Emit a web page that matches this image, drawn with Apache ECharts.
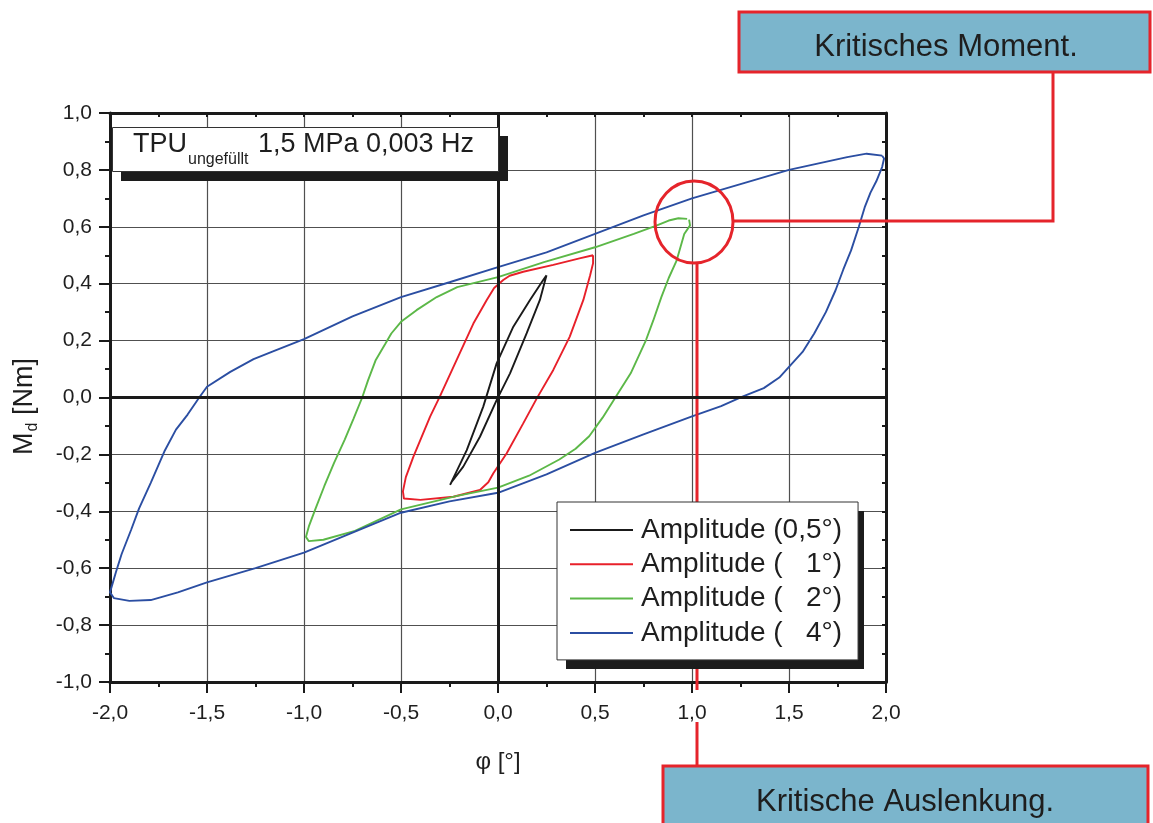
<!DOCTYPE html>
<html>
<head>
<meta charset="utf-8">
<script src="https://cdn.jsdelivr.net/npm/echarts@6/dist/echarts.min.js"></script>
<style>
  html, body { margin: 0; padding: 0; background: #fff; }
  #chart { width: 1153px; height: 823px; }
</style>
</head>
<body>
<div id="chart"></div>
<script>
// Torsional hysteresis loops: twist angle φ [°] vs. moment M_d [Nm]
const seriesNames = ['Amplitude (0,5°)', 'Amplitude (   1°)', 'Amplitude (   2°)', 'Amplitude (   4°)'];
const seriesColors = ['#1a1a1a', '#e8202a', '#5cb848', '#2b4ea2'];

const xTickLabels = ['-2,0', '-1,5', '-1,0', '-0,5', '0,0', '0,5', '1,0', '1,5', '2,0'];
const yTickLabels = ['-1,0', '-0,8', '-0,6', '-0,4', '-0,2', '0,0', '0,2', '0,4', '0,6', '0,8', '1,0'];

// 0.5° amplitude loop [φ, M_d]
const loop05 = [
  [0.25, 0.43], [0.233, 0.413], [0.165, 0.343], [0.079, 0.249], [-0.007, 0.12],
  [-0.076, -0.032], [-0.161, -0.185], [-0.247, -0.307], [-0.24, -0.298],
  [-0.179, -0.243], [-0.093, -0.138], [-0.007, -0.009], [0.062, 0.085],
  [0.148, 0.226], [0.216, 0.343], [0.25, 0.43]
];

// 1° amplitude loop
const loop1 = [
  [0.49, 0.50], [0.42, 0.489], [0.285, 0.466], [0.13, 0.442], [0.06, 0.428], [0.027, 0.413],
  [-0.02, 0.385], [-0.058, 0.343], [-0.127, 0.26], [-0.213, 0.132], [-0.30, 0.003], [-0.35, -0.067],
  [-0.436, -0.208], [-0.475, -0.28], [-0.49, -0.33], [-0.485, -0.355], [-0.40, -0.36],
  [-0.23, -0.349], [-0.093, -0.325], [-0.05, -0.298], [-0.024, -0.266], [0.045, -0.196], [0.13, -0.091],
  [0.20, -0.003], [0.285, 0.097], [0.37, 0.214], [0.44, 0.343], [0.475, 0.43],
  [0.49, 0.472], [0.49, 0.50]
];

// 2° amplitude loop
const loop2 = [
  [0.975, 0.628], [0.93, 0.63], [0.88, 0.622], [0.816, 0.604], [0.70, 0.575],
  [0.50, 0.528], [0.237, 0.476], [0.00, 0.423], [-0.21, 0.388], [-0.316, 0.353],
  [-0.42, 0.307], [-0.50, 0.266], [-0.55, 0.225], [-0.58, 0.19], [-0.63, 0.132], [-0.67, 0.06],
  [-0.70, 0.0], [-0.745, -0.075], [-0.79, -0.148], [-0.845, -0.23], [-0.895, -0.311],
  [-0.94, -0.39], [-0.974, -0.451], [-0.99, -0.49], [-0.975, -0.505], [-0.90, -0.50],
  [-0.737, -0.469], [-0.50, -0.393], [-0.21, -0.346], [0.0, -0.317], [0.16, -0.275],
  [0.316, -0.218], [0.40, -0.18], [0.47, -0.136], [0.54, -0.07], [0.605, 0.0],
  [0.684, 0.085], [0.763, 0.202], [0.80, 0.27], [0.842, 0.353], [0.88, 0.42],
  [0.92, 0.48], [0.96, 0.575], [0.99, 0.605], [0.985, 0.625]
];

// 4° amplitude loop
const loop4 = [
  [1.98, 0.85], [1.90, 0.857], [1.80, 0.845], [1.70, 0.83], [1.60, 0.815],
  [1.50, 0.80], [1.25, 0.75], [1.00, 0.70], [0.75, 0.64], [0.50, 0.575],
  [0.25, 0.51], [0.00, 0.458], [-0.25, 0.405], [-0.50, 0.353], [-0.75, 0.285],
  [-1.00, 0.205], [-1.15, 0.165], [-1.26, 0.135], [-1.38, 0.09], [-1.50, 0.038],
  [-1.54, 0.0], [-1.60, -0.06], [-1.66, -0.113], [-1.72, -0.19], [-1.79, -0.30],
  [-1.85, -0.39], [-1.89, -0.463], [-1.94, -0.55], [-1.97, -0.615], [-2.0, -0.685],
  [-1.98, -0.705], [-1.90, -0.715], [-1.79, -0.712], [-1.65, -0.685], [-1.50, -0.65],
  [-1.25, -0.60], [-1.00, -0.545], [-0.75, -0.475], [-0.50, -0.405], [-0.25, -0.365],
  [0.00, -0.335], [0.25, -0.27], [0.50, -0.195], [0.75, -0.13], [1.00, -0.066],
  [1.15, -0.03], [1.26, 0.003], [1.37, 0.033], [1.45, 0.07], [1.50, 0.108],
  [1.57, 0.16], [1.63, 0.225], [1.69, 0.30], [1.74, 0.377], [1.78, 0.45],
  [1.82, 0.517], [1.86, 0.60], [1.89, 0.668], [1.92, 0.72], [1.95, 0.76],
  [1.98, 0.81], [1.99, 0.84], [1.98, 0.85]
];

const loops = [loop05, loop1, loop2, loop4];

const FONT = '"Liberation Sans", Arial, Helvetica, sans-serif';
const INK = '#1a1a1a';
const TEXT = '#1e1e1e';
const RED = '#e5242b';
const BOXFILL = '#7bb5cc';

const chart = echarts.init(document.getElementById('chart'), null, { renderer: 'canvas' });

function labelFrom(list, min, step) {
  return function (v) { return list[Math.round((v - min) / step)] || ''; };
}

const frameAxis = {
  axisLine: { show: true, onZero: false, lineStyle: { color: INK, width: 3 } },
  axisLabel: { show: false },
  splitLine: { show: false },
  axisTick: { show: true, inside: true, length: 4, lineStyle: { color: INK, width: 2 } },
  minorTick: { show: true, splitNumber: 2, length: 4, lineStyle: { color: INK, width: 2 } }
};

const lineSeries = loops.map(function (d, i) {
  return {
    name: seriesNames[i],
    type: 'line',
    data: d,
    showSymbol: false,
    symbol: 'none',
    smooth: false,
    z: 3,
    lineStyle: { color: seriesColors[i], width: 1.9 },
    itemStyle: { color: seriesColors[i] }
  };
});

// zero lines through the origin
const zeroSeries = {
  name: 'zero',
  type: 'line',
  data: [],
  silent: true,
  z: 2,
  markLine: {
    silent: true,
    symbol: ['none', 'none'],
    label: { show: false },
    lineStyle: { color: INK, width: 3, type: 'solid' },
    data: [{ xAxis: 0 }, { yAxis: 0 }]
  }
};

const option = {
  animation: false,
  backgroundColor: '#fff',
  textStyle: { fontFamily: FONT },
  grid: { left: 110, top: 113, width: 776, height: 569, containLabel: false },
  xAxis: [
    {
      type: 'value', min: -2, max: 2, interval: 0.5, position: 'bottom',
      name: 'φ [°]', nameLocation: 'middle', nameGap: 68,
      nameTextStyle: { fontSize: 24, color: TEXT, fontFamily: FONT },
      axisLine: { show: true, onZero: false, lineStyle: { color: INK, width: 3 } },
      axisTick: { show: true, length: 11, lineStyle: { color: INK, width: 2 } },
      minorTick: { show: true, splitNumber: 2, length: 5, lineStyle: { color: INK, width: 2 } },
      splitLine: { show: true, lineStyle: { color: '#505050', width: 1.2 } },
      axisLabel: {
        formatter: labelFrom(xTickLabels, -2, 0.5), fontSize: 21, color: TEXT,
        fontFamily: FONT, margin: 21, showMinLabel: true, showMaxLabel: true
      }
    },
    Object.assign({ type: 'value', min: -2, max: 2, interval: 0.5, position: 'top' }, frameAxis)
  ],
  yAxis: [
    {
      type: 'value', min: -1, max: 1, interval: 0.2, position: 'left',
      axisLine: { show: true, onZero: false, lineStyle: { color: INK, width: 3 } },
      axisTick: { show: true, length: 11, lineStyle: { color: INK, width: 2 } },
      minorTick: { show: true, splitNumber: 2, length: 5, lineStyle: { color: INK, width: 2 } },
      splitLine: { show: true, lineStyle: { color: '#505050', width: 1.2 } },
      axisLabel: {
        formatter: labelFrom(yTickLabels, -1, 0.2), fontSize: 21, color: TEXT,
        fontFamily: FONT, margin: 18, showMinLabel: true, showMaxLabel: true
      }
    },
    Object.assign({ type: 'value', min: -1, max: 1, interval: 0.2, position: 'right' }, frameAxis)
  ],
  legend: {
    data: seriesNames,
    orient: 'vertical',
    left: 557, top: 502,
    z: 10,
    icon: 'rect',
    itemWidth: 63, itemHeight: 2, itemGap: 6.3,
    padding: [14, 16, 13, 13],
    backgroundColor: '#fff',
    borderColor: '#333', borderWidth: 1,
    selectedMode: false,
    textStyle: { fontSize: 28, lineHeight: 28, color: TEXT, fontFamily: FONT, padding: [0, 0, 0, 3] }
  },
  series: [zeroSeries].concat(lineSeries),
  graphic: [
    // legend shadow
    { type: 'rect', z: 9, shape: { x: 566, y: 511, width: 298, height: 158 }, style: { fill: '#1c1c1c' } },
    // test-condition box
    { type: 'rect', z: 20, shape: { x: 121, y: 136, width: 387, height: 45 }, style: { fill: '#1c1c1c' } },
    { type: 'rect', z: 21, shape: { x: 112.5, y: 127.5, width: 386, height: 44 }, style: { fill: '#fff', stroke: '#333', lineWidth: 1 } },
    { type: 'text', z: 22, x: 133, y: 145, style: { text: 'TPU', font: '27px ' + FONT, fill: TEXT, verticalAlign: 'middle' } },
    { type: 'text', z: 22, x: 188, y: 159.5, style: { text: 'ungefüllt', font: '16px ' + FONT, fill: TEXT, verticalAlign: 'middle' } },
    { type: 'text', z: 22, x: 258, y: 145, style: { text: '1,5 MPa 0,003 Hz', font: '27px ' + FONT, fill: TEXT, verticalAlign: 'middle' } },
    // y axis title, rotated
    {
      type: 'group', z: 22, x: 25, y: 455, rotation: Math.PI / 2,
      children: [
        { type: 'text', x: 0, y: 0, style: { text: 'M', font: '27px ' + FONT, fill: TEXT, verticalAlign: 'middle' } },
        { type: 'text', x: 23.5, y: 8, style: { text: 'd', font: '16px ' + FONT, fill: TEXT, verticalAlign: 'middle' } },
        { type: 'text', x: 32.5, y: 0, style: { text: ' [Nm]', font: '27px ' + FONT, fill: TEXT, verticalAlign: 'middle' } }
      ]
    },
    // critical moment callout
    { type: 'polyline', z: 30, shape: { points: [[1053, 72], [1053, 221], [733, 221]] }, style: { stroke: RED, lineWidth: 3, fill: null } },
    { type: 'ellipse', z: 30, shape: { cx: 694, cy: 222, rx: 39, ry: 41 }, style: { stroke: RED, lineWidth: 3, fill: null } },
    { type: 'rect', z: 30, shape: { x: 739, y: 12, width: 411, height: 60 }, style: { fill: BOXFILL, stroke: RED, lineWidth: 3 } },
    { type: 'text', z: 31, x: 946, y: 47, style: { text: 'Kritisches Moment.', font: '31px ' + FONT, fill: TEXT, align: 'center', verticalAlign: 'middle' } },
    // critical deflection callout
    { type: 'line', z: 5, shape: { x1: 697, y1: 263, x2: 697, y2: 690 }, style: { stroke: RED, lineWidth: 3 } },
    { type: 'line', z: 30, shape: { x1: 697, y1: 722, x2: 697, y2: 766 }, style: { stroke: RED, lineWidth: 3 } },
    { type: 'rect', z: 30, shape: { x: 663, y: 766, width: 485, height: 80 }, style: { fill: BOXFILL, stroke: RED, lineWidth: 3 } },
    { type: 'text', z: 31, x: 905, y: 802, style: { text: 'Kritische Auslenkung.', font: '31px ' + FONT, fill: TEXT, align: 'center', verticalAlign: 'middle' } }
  ]
};

chart.setOption(option);
</script>
</body>
</html>
